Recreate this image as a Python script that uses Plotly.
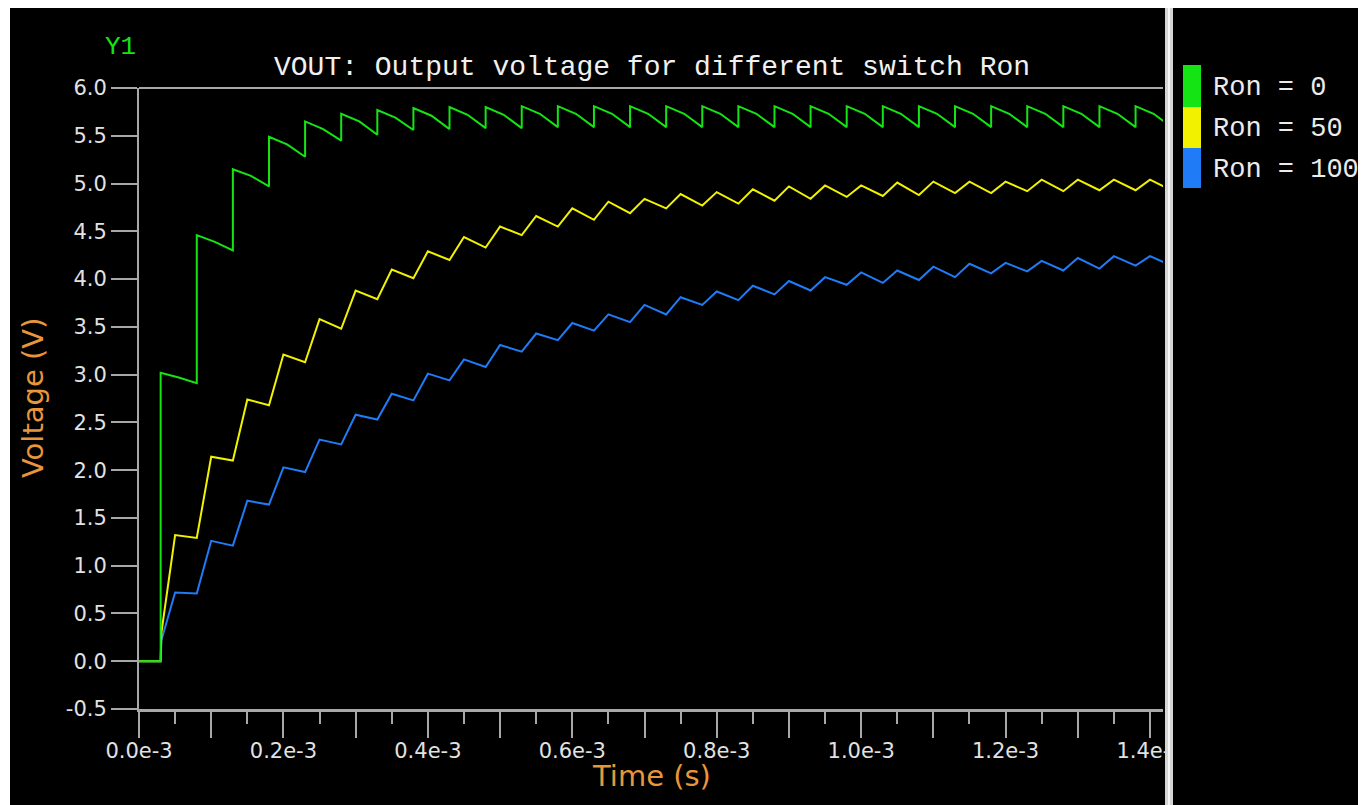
import plotly.graph_objects as go

# ---------------- data (times in ms, voltages in V) ----------------
series_names = ["Ron = 0", "Ron = 50", "Ron = 100"]
series_colors = ["#14E414", "#F2F200", "#1F7CF6"]

t_switch_ms = [0.03, 0.08, 0.13, 0.18, 0.23, 0.28, 0.33, 0.38, 0.43, 0.48,
               0.53, 0.58, 0.63, 0.68, 0.73, 0.78, 0.83, 0.88, 0.93, 0.98,
               1.03, 1.08, 1.13, 1.18, 1.23, 1.28, 1.33, 1.38]
t_peak_ms = [0.05, 0.10, 0.15, 0.20, 0.25, 0.30, 0.35, 0.40, 0.45, 0.50,
             0.55, 0.60, 0.65, 0.70, 0.75, 0.80, 0.85, 0.90, 0.95, 1.00,
             1.05, 1.10, 1.15, 1.20, 1.25, 1.30, 1.35, 1.40]
t_mid_ms = [0.055, 0.105, 0.155, 0.205, 0.255, 0.305, 0.355, 0.405, 0.455, 0.505,
            0.555, 0.605, 0.655, 0.705, 0.755, 0.805, 0.855, 0.905, 0.955, 1.005,
            1.055, 1.105, 1.155, 1.205, 1.255, 1.305, 1.355, 1.405]
t_end_ms = [0.08, 0.13, 0.18, 0.23, 0.28, 0.33, 0.38, 0.43, 0.48, 0.53,
            0.58, 0.63, 0.68, 0.73, 0.78, 0.83, 0.88, 0.93, 0.98, 1.03,
            1.08, 1.13, 1.18, 1.23, 1.28, 1.33, 1.38, 1.43]
t_onset_ms = 0.031

# Ron = 0 : instantaneous charge then droop
ron0_peak = [3.02, 4.46, 5.15, 5.49, 5.65, 5.73, 5.77, 5.79, 5.80, 5.80,
             5.81, 5.81, 5.81, 5.81, 5.81, 5.81, 5.81, 5.81, 5.81, 5.81,
             5.81, 5.81, 5.81, 5.81, 5.81, 5.81, 5.81, 5.81]
ron0_mid = [2.97, 4.39, 5.08, 5.41, 5.57, 5.65, 5.69, 5.71, 5.72, 5.72,
            5.73, 5.73, 5.73, 5.73, 5.73, 5.73, 5.73, 5.73, 5.73, 5.73,
            5.73, 5.73, 5.73, 5.73, 5.73, 5.73, 5.73, 5.73]
ron0_trough = [2.91, 4.30, 4.97, 5.28, 5.45, 5.51, 5.56, 5.57, 5.58, 5.58,
               5.59, 5.59, 5.59, 5.59, 5.59, 5.59, 5.59, 5.59, 5.59, 5.59,
               5.59, 5.59, 5.59, 5.59, 5.59, 5.59, 5.59, 5.59]

# Ron = 50
ron50_onset = 0.30
ron50_peak = [1.32, 2.14, 2.74, 3.21, 3.58, 3.88, 4.10, 4.29, 4.44, 4.55,
              4.66, 4.74, 4.81, 4.84, 4.89, 4.91, 4.94, 4.97, 4.98, 4.98,
              5.01, 5.02, 5.02, 5.02, 5.04, 5.04, 5.04, 5.04]
ron50_trough = [1.29, 2.10, 2.68, 3.13, 3.48, 3.79, 4.01, 4.20, 4.33, 4.46,
                4.55, 4.62, 4.69, 4.74, 4.77, 4.79, 4.82, 4.84, 4.86, 4.87,
                4.88, 4.90, 4.90, 4.92, 4.92, 4.93, 4.93, 4.93]

# Ron = 100
ron100_onset = 0.22
ron100_peak = [0.72, 1.26, 1.68, 2.03, 2.32, 2.58, 2.80, 3.01, 3.16, 3.31,
               3.43, 3.54, 3.63, 3.73, 3.81, 3.87, 3.93, 3.98, 4.02, 4.07,
               4.09, 4.13, 4.16, 4.17, 4.19, 4.22, 4.24, 4.24]
ron100_trough = [0.71, 1.21, 1.64, 1.98, 2.27, 2.53, 2.73, 2.94, 3.08, 3.24,
                 3.36, 3.46, 3.55, 3.63, 3.73, 3.78, 3.84, 3.88, 3.94, 3.96,
                 3.99, 4.02, 4.06, 4.08, 4.09, 4.11, 4.14, 4.14]

x_tick_vals_ms = [0.0, 0.1, 0.2, 0.3, 0.4, 0.5, 0.6, 0.7, 0.8, 0.9, 1.0, 1.1, 1.2, 1.3, 1.4]
x_tick_labels = ["0.0e-3", "", "0.2e-3", "", "0.4e-3", "", "0.6e-3", "", "0.8e-3", "",
                 "1.0e-3", "", "1.2e-3", "", "1.4e-3"]
x_minor_vals_ms = [0.05, 0.15, 0.25, 0.35, 0.45, 0.55, 0.65, 0.75, 0.85, 0.95,
                   1.05, 1.15, 1.25, 1.35]
y_tick_vals = [-0.5, 0.0, 0.5, 1.0, 1.5, 2.0, 2.5, 3.0, 3.5, 4.0, 4.5, 5.0, 5.5, 6.0]
y_tick_labels = ["-0.5", "0.0", "0.5", "1.0", "1.5", "2.0", "2.5", "3.0", "3.5",
                 "4.0", "4.5", "5.0", "5.5", "6.0"]

MS = 1e-3


def build_ron0():
    xs = [0.0, t_switch_ms[0]]
    ys = [0.0, 0.0]
    for k in range(len(t_switch_ms)):
        xs += [t_switch_ms[k], t_mid_ms[k], t_end_ms[k]]
        ys += [ron0_peak[k], ron0_mid[k], ron0_trough[k]]
    return [x * MS for x in xs], ys


def build_rc(onset, peaks, troughs):
    xs = [0.0, t_switch_ms[0], t_onset_ms]
    ys = [0.0, 0.0, onset]
    for k in range(len(t_peak_ms)):
        xs += [t_peak_ms[k], t_end_ms[k]]
        ys += [peaks[k], troughs[k]]
    return [x * MS for x in xs], ys


fig = go.Figure()
x100, y100 = build_rc(ron100_onset, ron100_peak, ron100_trough)
x50, y50 = build_rc(ron50_onset, ron50_peak, ron50_trough)
x0, y0 = build_ron0()
fig.add_trace(go.Scatter(x=x100, y=y100, mode="lines", name=series_names[2],
                         line=dict(color=series_colors[2], width=2)))
fig.add_trace(go.Scatter(x=x50, y=y50, mode="lines", name=series_names[1],
                         line=dict(color=series_colors[1], width=2)))
fig.add_trace(go.Scatter(x=x0, y=y0, mode="lines", name=series_names[0],
                         line=dict(color=series_colors[0], width=2)))

# page body has an 8px margin; figure is sized so it ends at the window edge
OFF = 8
W, H = 1366 - OFF, 805 - OFF
L, T = 139 - OFF, 88 - OFF
R = W - (1163 - OFF)
B = H - (709 - OFF)
PW, PH = W - L - R, H - T - B


def px(xp):  # xp: pixel in window coordinates
    return (xp - OFF - L) / PW


def py(yp):
    return (H - B - (yp - OFF)) / PH


axis_col = "#a8a8a8"
tick_font = dict(family="DejaVu Sans", size=21, color="#e2e2e2")

fig.update_layout(
    width=W, height=H,
    margin=dict(l=L, r=R, t=T, b=B, pad=0),
    paper_bgcolor="#000000", plot_bgcolor="#000000",
    showlegend=False,
    xaxis=dict(range=[0, 1.418e-3], showgrid=False, zeroline=False,
               showline=True, linecolor=axis_col, linewidth=3,
               tickmode="array", tickvals=[v * MS for v in x_tick_vals_ms],
               ticktext=x_tick_labels, ticks="outside", ticklen=26, tickwidth=2,
               tickcolor=axis_col, tickfont=tick_font, ticklabelstandoff=-5,
               minor=dict(tickmode="array", tickvals=[v * MS for v in x_minor_vals_ms],
                          ticks="outside", ticklen=12, tickwidth=2, tickcolor=axis_col)),
    yaxis=dict(range=[-0.5, 6.0], showgrid=False, zeroline=False,
               showline=True, linecolor=axis_col, linewidth=2,
               tickmode="array", tickvals=y_tick_vals, ticktext=y_tick_labels,
               ticks="outside", ticklen=26, tickwidth=2, tickcolor=axis_col,
               tickfont=tick_font),
)

shapes = []
# top frame line
shapes.append(dict(type="line", xref="paper", yref="paper", x0=0, x1=1, y0=1, y1=1,
                   line=dict(color=axis_col, width=2), layer="above"))
# black area right of the plot hides overflow of the last tick label
shapes.append(dict(type="rect", xref="paper", yref="paper", x0=px(1165), x1=px(1230),
                   y0=py(780), y1=py(712), fillcolor="#000000", line=dict(width=0),
                   layer="above"))
# vertical separator bar
shapes.append(dict(type="rect", xref="paper", yref="paper", x0=px(1165), x1=px(1173),
                   y0=py(815), y1=py(0), fillcolor="#d4d4d4", line=dict(width=0),
                   layer="above"))
shapes.append(dict(type="line", xref="paper", yref="paper", x0=px(1169), x1=px(1169),
                   y0=py(815), y1=py(0), line=dict(color="#f4f4f4", width=2),
                   layer="above"))
# extra white strip on the left border
shapes.append(dict(type="rect", xref="paper", yref="paper", x0=px(0), x1=px(10),
                   y0=py(815), y1=py(0), fillcolor="#ffffff", line=dict(width=0), layer="above"))
# legend swatches
sw_top = [65, 107, 148]
sw_bot = [107, 148, 188]
for i in range(3):
    shapes.append(dict(type="rect", xref="paper", yref="paper", x0=px(1183), x1=px(1201),
                       y0=py(sw_bot[i]), y1=py(sw_top[i]), fillcolor=series_colors[i],
                       line=dict(width=0), layer="above"))
fig.update_layout(shapes=shapes)

mono = "Liberation Mono"
ann = []
ann.append(dict(text="VOUT: Output voltage for different switch Ron", x=px(652), y=py(67),
                xref="paper", yref="paper", showarrow=False, xanchor="center", yanchor="middle",
                font=dict(family=mono, size=28, color="#f0f0f0")))
ann.append(dict(text="Y1", x=px(120), y=py(47), xref="paper", yref="paper", showarrow=False,
                xanchor="center", yanchor="middle", font=dict(family=mono, size=26, color="#14E414")))
ann.append(dict(text="Voltage (V)", x=px(33), y=py(398), xref="paper", yref="paper",
                showarrow=False, textangle=-90, xanchor="center", yanchor="middle",
                font=dict(family="DejaVu Sans", size=29, color="#E8963C")))
ann.append(dict(text="Time (s)", x=px(651), y=py(776), xref="paper", yref="paper",
                showarrow=False, xanchor="center", yanchor="middle",
                font=dict(family="DejaVu Sans", size=29, color="#E8963C")))
leg_y = [88, 129, 170]
for i in range(3):
    ann.append(dict(text=series_names[i], x=px(1211), y=py(leg_y[i]), xref="paper", yref="paper",
                    showarrow=False, xanchor="left", yanchor="middle",
                    font=dict(family=mono, size=27, color="#ebebeb")))
fig.update_layout(annotations=ann)

fig.write_html("out.html")
